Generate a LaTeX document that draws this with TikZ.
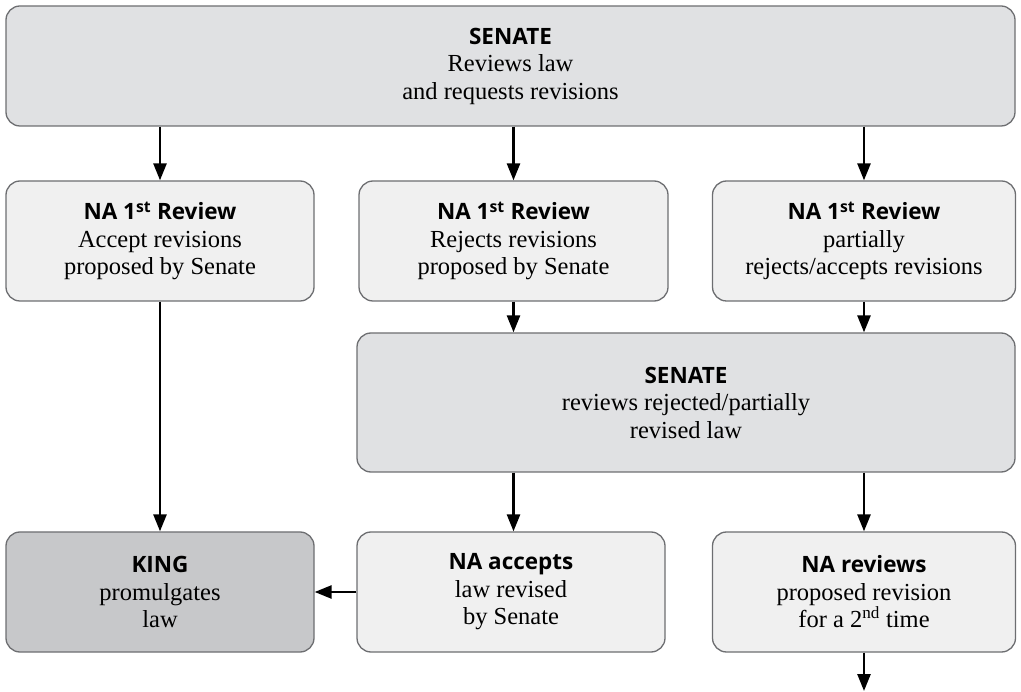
\documentclass[tikz,border=0pt]{standalone}
\usepackage{fontspec}
\setmainfont{Liberation Serif}
\newfontfamily\headfont{Open Sans}
\usetikzlibrary{arrows.meta}
\definecolor{bordergrey}{HTML}{6D6E71}
\definecolor{senatefill}{HTML}{E0E1E3}
\definecolor{nafill}{HTML}{F0F0F0}
\definecolor{kingfill}{HTML}{C7C8CA}
\newcommand{\hd}[1]{{\headfont\bfseries\fontsize{22.5}{28}\selectfont #1}}
\begin{document}
\begin{tikzpicture}[x=1pt,y=-1pt,
  box/.style={draw=bordergrey, line width=1.3pt, rounded corners=14pt, align=center,
    font=\fontsize{24.5}{27.5}\selectfont, inner sep=0pt, text=black},
  senatebox/.style={box, fill=senatefill},
  nabox/.style={box, fill=nafill},
  kingbox/.style={box, fill=kingfill},
  arr/.style={-{Triangle[length=17pt,width=13pt]}, line width=2.6pt, black}]
\useasboundingbox (0,0) rectangle (1021,692);
\node[senatebox, minimum width=1009pt, minimum height=120pt] (senate1) at (510.5,66)
  {\hd{SENATE}\\Reviews law\\and requests revisions};
\node[nabox, minimum width=308pt, minimum height=120pt] (na1) at (160,241)
  {\hd{NA 1\textsuperscript{st} Review}\\Accept revisions\\proposed by Senate};
\node[nabox, minimum width=309pt, minimum height=120pt] (na2) at (513.5,241)
  {\hd{NA 1\textsuperscript{st} Review}\\Rejects revisions\\proposed by Senate};
\node[nabox, minimum width=303pt, minimum height=120pt] (na3) at (864,241)
  {\hd{NA 1\textsuperscript{st} Review}\\partially\\rejects/accepts revisions};
\node[senatebox, minimum width=658pt, minimum height=139pt] (senate2) at (686,402.5)
  {\hd{SENATE}\\reviews rejected/partially\\revised law};
\node[kingbox, minimum width=308pt, minimum height=120pt] (king) at (160,592)
  {\hd{KING}\\promulgates\\law};
\node[nabox, minimum width=308pt, minimum height=120pt] (naacc) at (511,592)
  {\hd{NA accepts}\\law revised\\by Senate};
\node[nabox, minimum width=303pt, minimum height=120pt] (narev) at (864,592)
  {\hd{NA reviews}\\proposed revision\\for a 2\textsuperscript{nd} time};
\coordinate (exitpt) at (864,691);
\draw[arr] (senate1.south -| na1.north) -- (na1.north);
\draw[arr] (senate1.south -| na2.north) -- (na2.north);
\draw[arr] (senate1.south -| na3.north) -- (na3.north);
\draw[arr] (na2.south) -- (na2.south |- senate2.north);
\draw[arr] (na3.south) -- (na3.south |- senate2.north);
\draw[arr] (na1.south) -- (king.north);
\draw[arr] (na2.south |- senate2.south) -- (na2.south |- naacc.north);
\draw[arr] (na3.south |- senate2.south) -- (narev.north);
\draw[arr] (naacc.west) -- (king.east);
\draw[arr] (narev.south) -- (exitpt);
\end{tikzpicture}
\end{document}
